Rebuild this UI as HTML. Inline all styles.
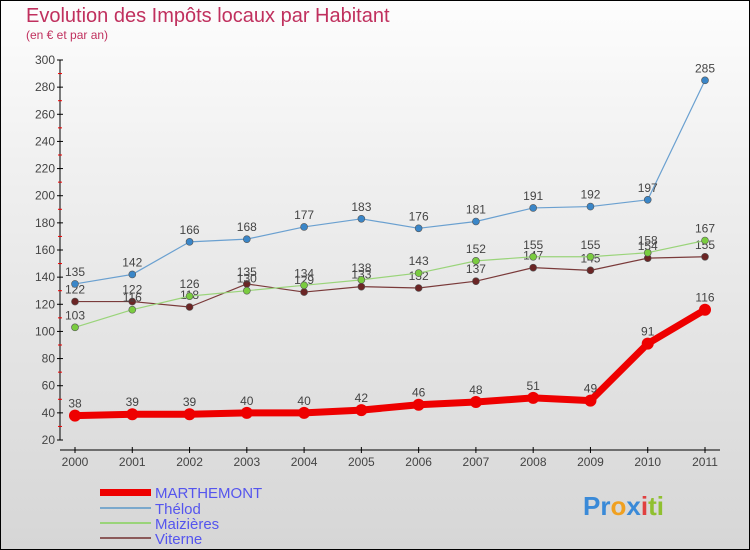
<!DOCTYPE html>
<html><head><meta charset="utf-8"><style>
html,body{margin:0;padding:0}
body{width:750px;height:550px;overflow:hidden;font-family:"Liberation Sans",sans-serif}
#wrap{position:absolute;left:0;top:0;width:748px;height:548px;border:1px solid #000;background:linear-gradient(#fdfdfd,#f0f0f0 30%,#d6d6d6)}
</style></head><body>
<div id="wrap">
<svg id="svg" width="750" height="550" style="position:absolute;left:-1px;top:-1px">
<text x="26" y="22" font-size="20" fill="#c0305e">Evolution des Impôts locaux par Habitant</text>
<text x="26" y="39" font-size="12" fill="#c0305e">(en € et par an)</text>
<g id="axes"></g><g id="series"></g>
<g>
<rect x="100" y="489" width="51" height="7" fill="#e00"/>
<text x="155" y="498" font-size="15" fill="#5555ee">MARTHEMONT</text>
<line x1="100" y1="508" x2="151" y2="508" stroke="#7aa8cc" stroke-width="2"/>
<text x="155" y="514" font-size="15" fill="#5555ee">Thélod</text>
<line x1="100" y1="523" x2="151" y2="523" stroke="#9ad47a" stroke-width="2"/>
<text x="155" y="529" font-size="15" fill="#5555ee">Maizières</text>
<line x1="100" y1="538" x2="151" y2="538" stroke="#8b5a5a" stroke-width="2"/>
<text x="155" y="544" font-size="15" fill="#5555ee">Viterne</text>
</g>
<g font-size="26" font-weight="bold">
<text x="583" y="515"><tspan fill="#3a8ad8">Pr</tspan><tspan fill="#f0a020">o</tspan><tspan fill="#3a8ad8">x</tspan><tspan fill="#e04040">i</tspan><tspan fill="#90c030">ti</tspan></text>
</g>
</svg></div>
<script>
const years=[2000,2001,2002,2003,2004,2005,2006,2007,2008,2009,2010,2011];
const marthemont=[38,39,39,40,40,42,46,48,51,49,91,116];
const thelod=[135,142,166,168,177,183,176,181,191,192,197,285];
const maizieres=[103,116,126,130,134,138,143,152,155,155,158,167];
const viterne=[122,122,118,135,129,133,132,137,147,145,154,155];
const yTicks=[20,40,60,80,100,120,140,160,180,200,220,240,260,280,300];
const NS="http://www.w3.org/2000/svg";
const X=i=>75+i*(630/11);
const Y=v=>440-(v-20)*380/280;
function mk(t,a,p){const e=document.createElementNS(NS,t);for(const k in a)e.setAttribute(k,a[k]);p.appendChild(e);return e;}
const ax=document.getElementById('axes');
let l=mk('line',{x1:60,y1:60,x2:60,y2:440,stroke:'#000'},ax);


l=mk('line',{x1:60,y1:450,x2:720,y2:450,stroke:'#000'},ax);


yTicks.forEach(v=>{
  mk('line',{x1:57,y1:Y(v),x2:63,y2:Y(v),stroke:'#000'},ax);
  if(v<300)mk('line',{x1:58,y1:Y(v+10),x2:62,y2:Y(v+10),stroke:'#e00'},ax);
  const t=mk('text',{x:55,y:Y(v)+4,'font-size':12,fill:'#444','text-anchor':'end'},ax);
  t.textContent=v;
  
  
});
years.forEach((y,i)=>{
  mk('line',{x1:X(i),y1:447,x2:X(i),y2:453,stroke:'#000'},ax);
  const t=mk('text',{x:X(i),y:466,'font-size':12,fill:'#444','text-anchor':'middle'},ax);
  t.textContent=y;
  
  
});
const sg=document.getElementById('series');
function draw(data,name,color,dot,w,r){
  const g=mk('g',{},sg);
  
  
  const pl=mk('polyline',{points:data.map((v,i)=>X(i)+','+Y(v)).join(' '),fill:'none',stroke:color,'stroke-width':w,'stroke-linejoin':'round'},g);
  
  
  data.forEach((v,i)=>{
    const c=mk('circle',{cx:X(i),cy:Y(v),r:r,fill:dot,stroke:w>3?'none':'#555','stroke-width':0.6},g);
    
    
    const t=mk('text',{x:X(i),y:Y(v)-8,'font-size':12,fill:'#444','text-anchor':'middle'},g);
    t.textContent=v;
    
    
  });
}
draw(viterne,'viterne','#7a3a3a','#6b2525',1.2,3.5);
draw(maizieres,'maizieres','#9ad47a','#7acc40',1.2,3.5);
draw(thelod,'thelod','#6aa0d0','#3a86c8',1.2,3.5);
draw(marthemont,'marthemont','#e00','#e00',7,6);
</script>
</body></html>
